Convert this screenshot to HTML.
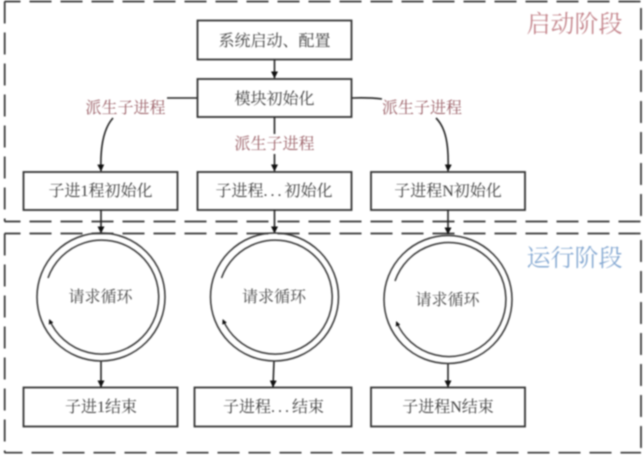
<!DOCTYPE html>
<html><head><meta charset="utf-8"><style>
html,body{margin:0;padding:0;background:#fff;width:644px;height:457px;overflow:hidden}
svg{display:block;filter:blur(.75px)}
text{font-family:"Liberation Serif","Noto Serif CJK SC",serif;text-anchor:middle}
.t{font-size:16px;fill:#3c3c3c}
.c{font-size:16px;fill:#484848}
.r{font-size:16px;fill:#9a5f66}
</style></head><body>
<svg width="644" height="457" viewBox="0 0 644 457" xmlns="http://www.w3.org/2000/svg">
<defs><marker id="a" markerUnits="userSpaceOnUse" markerWidth="8" markerHeight="8" refX="6.5" refY="3.5" orient="auto"><path d="M0 0L7 3.5L0 7z" fill="#111"/></marker>
<marker id="b" markerUnits="userSpaceOnUse" markerWidth="6" markerHeight="6" refX="4" refY="2.5" orient="auto"><path d="M0 0L5 2.5L0 5z" fill="#111"/></marker></defs>
<g fill="none" stroke="#333" stroke-width="1.7" stroke-dasharray="22 9">
<path d="M4.500 1.500H641" stroke-dashoffset="6"/>
<path d="M4.500 221.500H641" stroke-dashoffset="6"/>
<path d="M4.500 233.500H641" stroke-dashoffset="6"/>
<path d="M4.500 452.700H641" stroke-dashoffset="4"/>
<path d="M4.700 1.500V221.500"/>
<path d="M4.700 233.500V452.700"/>
<path d="M641 1.500V221.500" stroke-dashoffset="24.500"/>
<path d="M641 233.500V452.700" stroke-dashoffset="24.500"/>
</g>
<g fill="#fff" stroke="#333" stroke-width="1.8">
<rect x="197.500" y="20.500" width="154" height="39"/>
<rect x="197.500" y="79" width="154" height="38"/>
<rect x="23.500" y="172" width="154" height="38"/>
<rect x="197.500" y="172" width="154" height="38"/>
<rect x="371" y="172" width="154" height="38"/>
<rect x="23.500" y="387.500" width="154" height="39"/>
<rect x="194.500" y="387.500" width="157" height="39"/>
<rect x="371" y="387.500" width="154" height="39"/>
</g>
<g fill="none" stroke="#222" stroke-width="1.6">
<path d="M274.500 60V78" marker-end="url(#a)"/>
<path d="M274.500 117V135M274.500 154V171" marker-end="url(#a)"/>
<path d="M197 98H167"/>
<path d="M352 98C365 97.500 374 98 382 99"/>
<path d="M113 118C104 128 100 145 101 171" marker-end="url(#a)"/>
<path d="M436 118C446 128 449 145 448 171" marker-end="url(#a)"/>
<path d="M101 210V233" marker-end="url(#a)"/>
<path d="M274.500 210V233" marker-end="url(#a)"/>
<path d="M448 210V234" marker-end="url(#a)"/>
<path d="M101 361V387" marker-end="url(#a)"/>
<path d="M274 361L273 387" marker-end="url(#a)"/>
<path d="M448 364V387" marker-end="url(#a)"/>
</g>
<g fill="none" stroke="#333" stroke-width="1.5">
<circle cx="101" cy="297" r="64"/>
<circle cx="274.500" cy="297" r="64"/>
<circle cx="448" cy="299.500" r="64"/>
<path d="M48 278A57 57 0 1 1 49.500 320" marker-end="url(#b)"/>
<path d="M221.500 278A57 57 0 1 1 223 320" marker-end="url(#b)"/>
<path d="M395 281A57 57 0 1 1 396.500 322" marker-end="url(#b)"/>
</g>
<text class="t" x="274.500" y="46">系统启动、配置</text>
<text class="t" x="274.500" y="104">模块初始化</text>
<text class="t" x="100.500" y="196">子进1程初始化</text>
<text class="t" x="274" y="196">子进程<tspan letter-spacing="3">...</tspan>初始化</text>
<text class="t" x="448" y="196">子进程N初始化</text>
<text class="t" x="101" y="412">子进1结束</text>
<text class="t" x="273.500" y="412">子进程<tspan letter-spacing="3">...</tspan>结束</text>
<text class="t" x="448" y="412">子进程N结束</text>
<text class="c" x="100.500" y="302">请求循环</text>
<text class="c" x="274" y="302">请求循环</text>
<text class="c" x="447.500" y="305">请求循环</text>
<rect x="234" y="134" width="81" height="20" fill="#fff"/>
<text class="r" x="125.500" y="113">派生子进程</text>
<text class="r" x="274.500" y="149">派生子进程</text>
<text class="r" x="422" y="113">派生子进程</text>
<text x="574.500" y="32" style="font-size:24px;fill:#c4858c">启动阶段</text>
<text x="574.500" y="266" style="font-size:24px;fill:#86a9d2">运行阶段</text>
</svg>
</body></html>
